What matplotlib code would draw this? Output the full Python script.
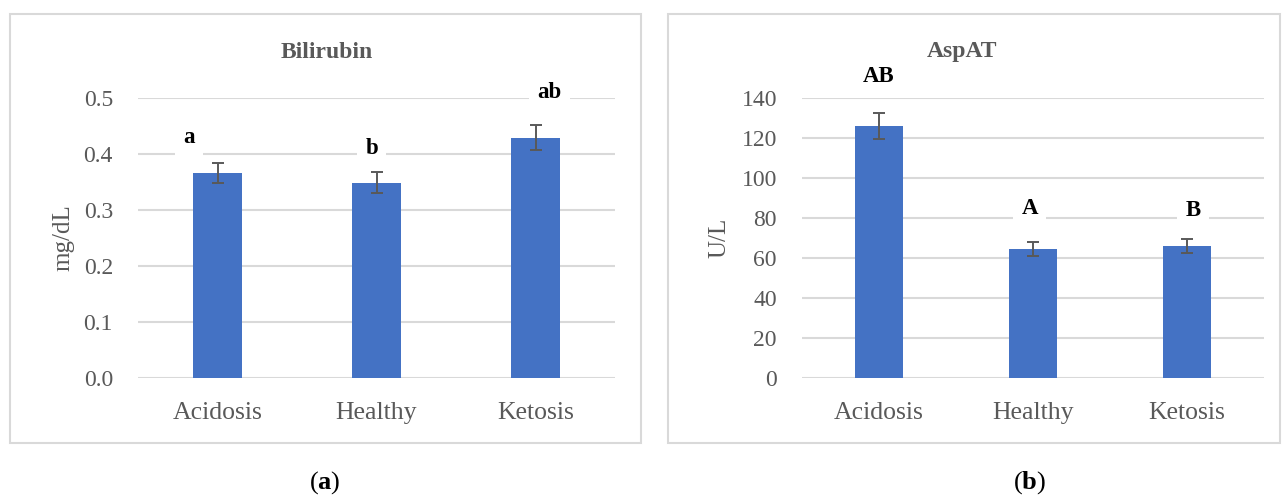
import matplotlib
matplotlib.use("Agg")
import matplotlib.pyplot as plt
from matplotlib.patches import Rectangle
import numpy as np

plt.rcParams["font.family"] = ["Liberation Serif", "DejaVu Serif"]
plt.rcParams["mathtext.fontset"] = "custom"
plt.rcParams["mathtext.rm"] = "Liberation Serif"
plt.rcParams["mathtext.bf"] = "Liberation Serif:bold"

categories = ["Acidosis", "Healthy", "Ketosis"]

bilirubin_mean = [0.366, 0.349, 0.429]
bilirubin_err = [0.018, 0.018, 0.022]
bilirubin_letters = ["a", "b", "ab"]
bilirubin_letter_pos = [(-0.18, 0.43), (0.97, 0.41), (2.09, 0.51)]
bilirubin_ticks = [0.0, 0.1, 0.2, 0.3, 0.4, 0.5]

aspat_mean = [126.0, 64.7, 66.0]
aspat_err = [6.5, 3.5, 3.5]
aspat_letters = ["AB", "A", "B"]
aspat_letter_pos = [(0.0, 150.5), (0.98, 85.0), (2.04, 84.0)]
aspat_ticks = [0, 20, 40, 60, 80, 100, 120, 140]

BAR = "#4472C4"
GRID = "#d9d9d9"
TEXT = "#595959"

fig = plt.figure(figsize=(12.82, 4.96), dpi=100)

# panel frames
for x0, x1 in [(10, 641), (668, 1280)]:
    fig.patches.append(Rectangle((x0 / 1282, 1 - 443 / 496), (x1 - x0) / 1282, (443 - 14) / 496,
                                 transform=fig.transFigure, fill=False, edgecolor=GRID, lw=1.5))


def panel(rect, means, errs, ticks, fmt, title, ylabel, letters, letter_pos, title_x, ylabel_x):
    ax = fig.add_axes(rect)
    x = np.arange(len(categories))
    ax.set_axisbelow(True)
    ax.yaxis.grid(True, color=GRID, lw=1.5)
    ax.bar(x, means, width=0.31, color=BAR, zorder=2)
    ax.errorbar(x, means, yerr=errs, fmt="none", ecolor=TEXT, elinewidth=1.4,
                capsize=4, capthick=1.4, zorder=3)
    ax.set_xlim(-0.5, 2.5)
    ax.set_ylim(ticks[0], ticks[-1])
    ax.set_yticks(ticks)
    ax.set_yticklabels([fmt.format(t) for t in ticks])
    ax.set_xticks(x)
    ax.set_xticklabels(categories)
    for s in ax.spines.values():
        s.set_visible(False)
    ax.tick_params(axis="y", length=0, pad=18, labelsize=17, labelcolor=TEXT)
    ax.tick_params(axis="x", length=0, pad=17, labelsize=18.5, labelcolor=TEXT)
    for lab, (lx, ly) in zip(letters, letter_pos):
        ax.text(lx, ly, lab, ha="center", va="center", fontsize=16.5, fontweight="bold",
                color="black", clip_on=False, zorder=4,
                bbox=dict(facecolor="white", edgecolor="none", pad=6))
    fig.text(title_x / 1282, 1 - 52 / 496, title, ha="center", va="center",
             fontsize=17, fontweight="bold", color=TEXT)
    fig.text(ylabel_x / 1282, 1 - 238 / 496, ylabel, ha="center", va="center",
             rotation=90, fontsize=18, color=TEXT)
    return ax


panel([138 / 1282, 1 - 378 / 496, 477 / 1282, 280 / 496], bilirubin_mean, bilirubin_err,
      bilirubin_ticks, "{:.1f}", "Bilirubin", "mg/dL", bilirubin_letters, bilirubin_letter_pos,
      327, 63)
panel([802 / 1282, 1 - 378 / 496, 462 / 1282, 280 / 496], aspat_mean, aspat_err,
      aspat_ticks, "{:d}", "AspAT", "U/L", aspat_letters, aspat_letter_pos,
      962, 719)

fig.text(325 / 1282, 1 - 483 / 496, r"($\mathbf{a}$)", ha="center", va="center", fontsize=19)
fig.text(1030 / 1282, 1 - 483 / 496, r"($\mathbf{b}$)", ha="center", va="center", fontsize=19)

fig.savefig("out.png", dpi=100)
